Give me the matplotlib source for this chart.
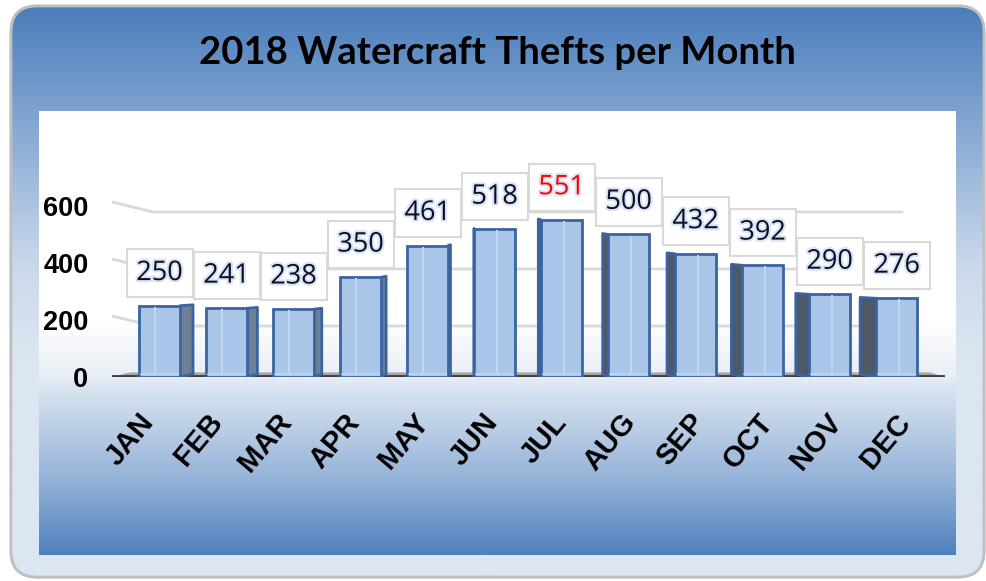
import numpy as np
import matplotlib
matplotlib.use("Agg")
import matplotlib.pyplot as plt
from matplotlib.patches import FancyBboxPatch, Polygon
from matplotlib.colors import LinearSegmentedColormap
from matplotlib.transforms import ScaledTranslation
import matplotlib.patheffects as pe

# ---------------- data ----------------
months = ["JAN", "FEB", "MAR", "APR", "MAY", "JUN",
          "JUL", "AUG", "SEP", "OCT", "NOV", "DEC"]
thefts = [250, 241, 238, 350, 461, 518, 551, 500, 432, 392, 290, 276]
yticks = [0, 200, 400, 600]
title = "2018 Watercraft Thefts per Month"
highlight_month = "JUL"

W, H = 987, 581
fig = plt.figure(figsize=(W / 100, H / 100), dpi=100, facecolor="white")

# ---------------- background (pixel coordinates) ----------------
bg = fig.add_axes([0, 0, 1, 1])
bg.set_xlim(0, W)
bg.set_ylim(H, 0)
bg.axis("off")

frame = FancyBboxPatch((11, 6), 973, 571, boxstyle="round,pad=0,rounding_size=26",
                       facecolor="#dce6f2", edgecolor="#bfbfbf", linewidth=2, zorder=1)
bg.add_patch(frame)

outer_cmap = LinearSegmentedColormap.from_list(
    "outer", [(0, "#4a7dbb"), (0.18, "#7da2cf"), (0.45, "#c9d8eb"), (0.62, "#dce6f2"), (1, "#dce6f2")])
grad = np.linspace(0, 1, 256).reshape(-1, 1)
im = bg.imshow(grad, cmap=outer_cmap, extent=(11, 984, 577, 6), aspect="auto", zorder=2)
im.set_clip_path(frame)
frame_edge = FancyBboxPatch((11, 6), 973, 571, boxstyle="round,pad=0,rounding_size=26",
                            facecolor="none", edgecolor="#bfbfbf", linewidth=2, zorder=3)
bg.add_patch(frame_edge)

plot_cmap = LinearSegmentedColormap.from_list(
    "plot", [(0, "#ffffff"), (0.47, "#ffffff"), (0.60, "#e8eef7"), (0.62, "#dbe5f1"),
             (0.85, "#8eadd6"), (1, "#4f81bd")])
bg.imshow(grad, cmap=plot_cmap, extent=(39, 956, 555, 111), aspect="auto", zorder=2.5)

bg.text(497, 53, title, ha="center", va="center", fontsize=27.5,
        fontweight="bold", family="Lato", color="black", zorder=4)

# ---------------- main axes ----------------
ax = fig.add_axes([112 / W, 1 - 377 / H, 833 / W, 266 / H])
ax.patch.set_alpha(0)
ax.set_xlim(-0.71, 11.72)
ax.set_ylim(0, 933)

x = np.arange(len(months))
vals = np.array(thefts, dtype=float)
unit_px = 67.0            # px per category
ypx = 266 / 933           # px per value unit

# grid lines (back wall with perspective bend on the left)
for t in yticks[1:]:
    ax.plot([-0.71, -0.1, 11.1], [t + 4 / ypx, t - 6 / ypx, t - 6 / ypx], color="#d9d9d9",
            lw=2, zorder=1, solid_capstyle="butt")

# floor
floor = Polygon([(-0.71, 0), (-0.45, 16), (11.5, 16), (11.72, 0)], closed=True,
                facecolor="#a6a6a6", edgecolor="none", zorder=1.5)
ax.add_patch(floor)
ax.axhline(0, color="#404040", lw=3.5, zorder=1.6)

bw = 0.61
side = (13 - 2.65 * x) / unit_px     # perspective side-face width (data units)
slant = 3 / ypx

for xi, v, s in zip(x, vals, side):
    if s > 0:
        e = xi + bw / 2
        col = "#6f8096"
    else:
        e = xi - bw / 2
        col = "#4d5868"
    poly = [(e, 0), (e + s, slant), (e + s, v + slant * 0.3), (e, v)]
    ax.add_patch(Polygon(poly, closed=True, facecolor=col, edgecolor="#3a64a0",
                         lw=2, zorder=2, joinstyle="round"))

ax.bar(x, vals, width=bw, color="#a9c5e8", edgecolor="#3a64a0", linewidth=2, zorder=3)
# subtle inner highlight lines on front faces
hl_off = np.where(side > 0, -bw / 2 + 0.24, bw / 2 - 0.27)
ax.vlines(x + hl_off, 8, vals - 4, color="#c0d5ef", lw=1.5, zorder=3.5)
for xi in x:
    ax.plot([xi - bw / 2 + 0.03, xi + bw / 2 - 0.03], [12, 12], color="#c0d5ef",
            lw=1.2, zorder=3.5)

# data labels
for xi, v, m in zip(x, vals, months):
    c = "#ff0000" if m == highlight_month else "#0d0d26"
    ax.annotate(f"{int(v)}", (xi, v), xytext=(0, 23.5), textcoords="offset points",
                ha="center", va="center", fontsize=19.5, family="Open Sans", color=c,
                zorder=5,
                path_effects=[pe.withStroke(linewidth=3, foreground="#d6e4f5")],
                bbox=dict(boxstyle="square,pad=0.36", facecolor="white",
                          edgecolor="#d9d9d9", linewidth=1.5))

# axes styling
for sp in ax.spines.values():
    sp.set_visible(False)
ax.set_yticks(yticks)
ax.set_yticklabels([str(t) for t in yticks], fontsize=19.5, fontweight="bold",
                   family="Liberation Sans")
ax.tick_params(axis="y", length=0, pad=17)
ax.set_xticks(x)
ax.set_xticklabels(months, fontsize=21, fontweight="bold", family="Liberation Sans",
                   rotation=50, ha="right", va="center", rotation_mode="anchor")
ax.tick_params(axis="x", length=0, pad=29)
for i, lab in enumerate(ax.get_xticklabels()):
    dx = (-11 + 1.8 * i) / 100
    lab.set_transform(lab.get_transform() + ScaledTranslation(dx, 0, fig.dpi_scale_trans))

fig.savefig("out.png", dpi=100, facecolor="white")
